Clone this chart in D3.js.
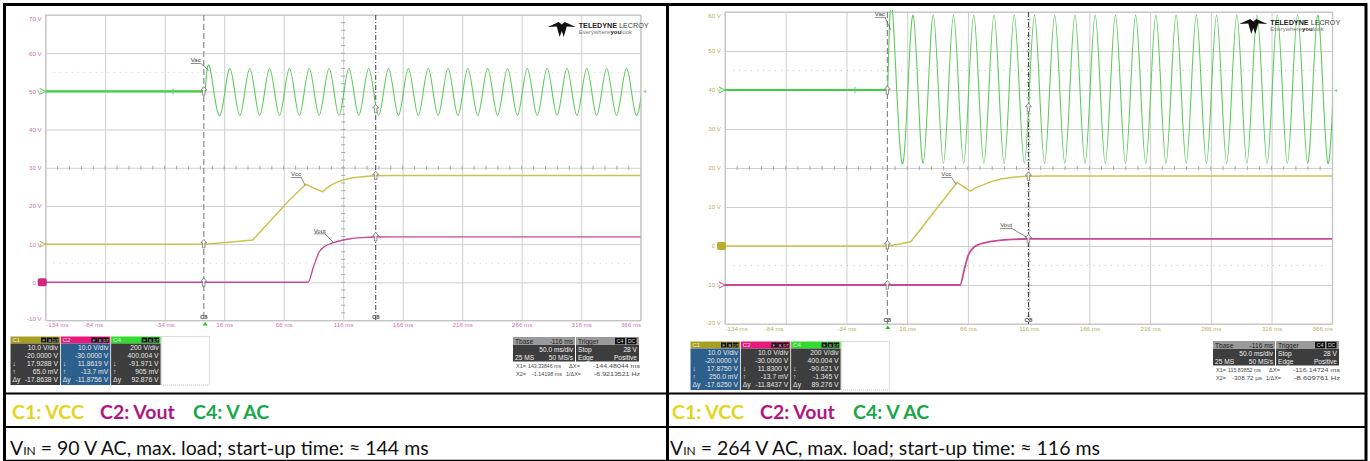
<!DOCTYPE html>
<html><head><meta charset="utf-8">
<script src="https://cdn.jsdelivr.net/npm/d3@7/dist/d3.min.js"></script>
<style>html,body{margin:0;padding:0;background:#fff}svg{display:block}</style>
</head><body>
<svg id="chart" width="1370" height="461"></svg>
<script>
// ================= DATA =================
const timeTicks = [-134, -84, -34, 16, 66, 116, 166, 216, 266, 316, 366];   // ms
const leftVoltTicks = [-10, 0, 10, 20, 30, 40, 50, 60, 70];                  // V (screen scale)
const rightVoltTicks = [-20, -10, 0, 10, 20, 30, 40, 50, 60];

// ---- Left: VIN = 90 V AC ----
const leftVccT  = [-134, 0, 20, 40, 71, 84.7, 91, 98.8, 102, 105, 110, 116, 123, 130, 137, 143, 155, 366];
const leftVccV  = [10, 10, 10.5, 11.1, 21.6, 25.7, 24.7, 23.7, 24.6, 25.3, 26.1, 26.8, 27.3, 27.6, 27.8, 27.9, 27.95, 27.95];
const leftVoutT = [-134, 86.4, 91, 95.9, 100, 108, 115, 122, 132, 143, 160, 366];
const leftVoutV = [0, 0, 4, 8.0, 9.3, 10.4, 11.0, 11.4, 11.7, 11.85, 11.9, 11.9];
const leftVacIdle = 50;
const leftVacExtremes = [56,43.7,56,43.7,56,43.7,56,43.7,56,43.7,56,43.7,56,43.7,56,43.7,
  56,43.7,56,43.7,56,43.7,56,43.7,56,43.7,56,43.7,56,43.7,56,43.7,56,43.7,56,43.7,
  56,43.7,56,43.7,56,43.7,56,43.7,56,43.7];

// ---- Right: VIN = 264 V AC ----
const rightVccT  = [-134, 0, 10, 19, 57, 68, 72, 78, 85, 92, 100, 108, 116, 130, 366];
const rightVccV  = [0, 0, 0.5, 1.1, 16.3, 14.1, 14.9, 15.6, 16.5, 17.1, 17.5, 17.75, 17.88, 17.95, 17.95];
const rightVoutT = [-134, 59.6, 63, 66.4, 70, 76, 84, 92, 104, 116, 135, 366];
const rightVoutV = [-10, -10, -6, -2.3, -0.6, 0.5, 1.1, 1.45, 1.7, 1.83, 1.85, 1.85];
const rightVacIdle = 40;
const rightVacExtremes = [59.2,21.2,59.2,21.2,59.2,21.2,59.2,21.2,59.2,21.2,59.2,21.2,59.2,21.2,
  59.2,21.2,59.2,21.2,59.2,21.2,59.2,21.2,59.2,21.2,59.2,21.2,59.2,21.2,59.2,21.2,59.2,21.2,
  59.2,21.2,59.2,21.2,59.2,21.2,59.2,21.2,59.2,21.2,59.2,21.2,59.2,21.2];

const vacFirstExtremeT = 4.17;   // ms after switch-on
const vacHalfPeriod = 8.33;      // ms (60 Hz)

// cursors (ms)
const leftCursors  = [143.33846, -1.14198];
const rightCursors = [115.83852, -0.30872];

// readouts [at X1, at X2]
const leftC1At = [17.9288, 0.065],  leftC2At = [11.8619, -0.0137],  leftC4At = [-91.971, 0.905];
const rightC1At = [17.8750, 0.250], rightC2At = [11.8300, -0.0137], rightC4At = [-90.621, -1.345];

// info box texts
const leftC1Info = ["10.0 V/div", "-20.0000 V", "17.9288 V", "65.0 mV", "-17.8638 V"];
const leftC2Info = ["10.0 V/div", "-30.0000 V", "11.8619 V", "-13.7 mV", "-11.8756 V"];
const leftC4Info = ["200 V/div", "400.004 V", "-91.971 V", "905 mV", "92.876 V"];
const rightC1Info = ["10.0 V/div", "-20.0000 V", "17.8750 V", "250.0 mV", "-17.6250 V"];
const rightC2Info = ["10.0 V/div", "-30.0000 V", "11.8300 V", "-13.7 mV", "-11.8437 V"];
const rightC4Info = ["200 V/div", "400.004 V", "-90.621 V", "-1.345 V", "89.276 V"];
const leftCursorText  = ["143.33846 ms", "-1.14198 ms", "-144.48044 ms", "-6.9213521 Hz"];
const rightCursorText = ["115.83852 ms", "-308.72 µs", "-116.14724 ms", "-8.609761 Hz"];
const timebaseText = ["Tbase", "-116 ms", "50.0 ms/div", "25 MS", "50 MS/s"];
const triggerText = ["Trigger", "Stop", "28 V", "Edge", "Positive"];

const legendItems = ["C1: VCC", "C2: Vout", "C4: V AC"];
const legendColors = ["#e3d41e", "#b0167c", "#18a84a"];
const leftCaption = " = 90 V AC, max. load; start-up time: ≈ 144 ms";
const rightCaption = " = 264 V AC, max. load; start-up time: ≈ 116 ms";

// ================= DRAW =================
const svg = d3.select("#chart");
const SANS = "'Liberation Sans', Arial, sans-serif";
const NARROW = "'Liberation Sans Narrow', 'Liberation Sans', Arial, sans-serif";
const GRID = "#cfcfcf";
const zip = (a, b) => a.map((d, i) => [d, b[i]]);

const panels = [
  { id: "L", x0: 45.7, x1: 640.7, y0: 15, y1: 320.5, yDomain: [-10, 70], voltTicks: leftVoltTicks,
    labelColor: "#cf72b8", vccT: leftVccT, vccV: leftVccV, voutT: leftVoutT, voutV: leftVoutV,
    vacIdle: leftVacIdle, vacExt: leftVacExtremes, cursors: leftCursors,
    c1: leftC1At, c2: leftC2At, c4: leftC4At, zero: { c1: 10, c2: 0, c4: 50 },
    dots: [55, 5], selected: "C2",
    labels: [{ t: "Vac", at: [3, 55.5], off: [-13, -8] }, { t: "Vcc", at: [84, 25.4], off: [-9, -9] },
             { t: "Vout", at: [108, 10.4], off: [-14, -10] }],
    info: [leftC1Info, leftC2Info, leftC4Info], boxX: 10.5, boxY: 336.5,
    tbX: 513, tbY: 337, curText: leftCursorText, curY: 368,
    legendX: 12, capX: 10 , caption: leftCaption},
  { id: "R", x0: 725, x1: 1332.3, y0: 12, y1: 324, yDomain: [-20, 60], voltTicks: rightVoltTicks,
    labelColor: "#b6b064", vccT: rightVccT, vccV: rightVccV, voutT: rightVoutT, voutV: rightVoutV,
    vacIdle: rightVacIdle, vacExt: rightVacExtremes, cursors: rightCursors,
    c1: rightC1At, c2: rightC2At, c4: rightC4At, zero: { c1: 0, c2: -10, c4: 40 },
    dots: [45, -5], selected: "C1",
    labels: [{ t: "Vac", at: [2.5, 55.4], off: [-11, -14] }, { t: "Vcc", at: [56.5, 15.8], off: [-10, -8] },
             { t: "Vout", at: [114, 2.3], off: [-20, -10] }],
    info: [rightC1Info, rightC2Info, rightC4Info], boxX: 690.5, boxY: 341.5,
    tbX: 1213, tbY: 341, curText: rightCursorText, curY: 372,
    legendX: 672, capX: 670, caption: rightCaption }
];

function drawPanel(p) {
  const g = svg.append("g");
  const x = d3.scaleLinear().domain([timeTicks[0], timeTicks[timeTicks.length - 1]]).range([p.x0, p.x1]);
  const y = d3.scaleLinear().domain(p.yDomain).range([p.y1, p.y0]);
  const W = p.x1 - p.x0, H = p.y1 - p.y0;

  // grid
  g.append("g").attr("transform", `translate(0,${p.y1})`)
    .call(d3.axisBottom(x).tickValues(timeTicks).tickSize(-H).tickFormat(""))
    .call(s => { s.select(".domain").remove(); s.selectAll("line").attr("stroke", GRID); });
  g.append("g").attr("transform", `translate(${p.x0},0)`)
    .call(d3.axisLeft(y).tickValues(p.voltTicks).tickSize(-W).tickFormat(""))
    .call(s => { s.select(".domain").remove(); s.selectAll("line").attr("stroke", GRID); });
  g.append("rect").attr("x", p.x0).attr("y", p.y0).attr("width", W).attr("height", H)
    .attr("fill", "none").attr("stroke", "#c4c4c4");

  // center cross minor ticks
  const cT = timeTicks[5], cV = p.voltTicks[4];
  const dT = (timeTicks[1] - timeTicks[0]) / 5, dV = (p.voltTicks[1] - p.voltTicks[0]) / 5;
  const minorT = d3.range(timeTicks[0] + dT, timeTicks[timeTicks.length - 1], dT);
  const minorV = d3.range(p.yDomain[0] + dV, p.yDomain[1], dV);
  g.selectAll(null).data(minorT).join("line")
    .attr("x1", d => x(d)).attr("x2", d => x(d)).attr("y1", y(cV) - 2).attr("y2", y(cV) + 2)
    .attr("stroke", "#a8a8a8");
  g.selectAll(null).data(minorV).join("line")
    .attr("y1", d => y(d)).attr("y2", d => y(d)).attr("x1", x(cT) - 2).attr("x2", x(cT) + 2)
    .attr("stroke", "#a8a8a8");

  // dotted levels
  g.selectAll(null).data(p.dots).join("line")
    .attr("x1", p.x0 + 8).attr("x2", p.x1 - 8).attr("y1", d => y(d)).attr("y2", d => y(d))
    .attr("stroke", "#c8c8c8").attr("stroke-dasharray", "1,5");

  // axis labels
  const xa = g.append("g").attr("transform", `translate(0,${p.y1 + 3})`)
    .call(d3.axisBottom(x).tickValues(timeTicks).tickSize(0).tickPadding(0).tickFormat(d => d + " ms"));
  xa.select(".domain").remove();
  xa.selectAll("text").attr("fill", p.labelColor).attr("font-family", SANS).attr("font-size", 6.2)
    .attr("dy", "0.6em")
    .attr("text-anchor", (d, i) => i === 0 ? "start" : i === timeTicks.length - 1 ? "end" : "middle")
    .attr("dx", (d, i) => i === 1 ? -12 : 0);
  const ya = g.append("g").attr("transform", `translate(${p.x0 - 4},0)`)
    .call(d3.axisLeft(y).tickValues(p.voltTicks).tickSize(0).tickPadding(0).tickFormat(d => d + " V"));
  ya.select(".domain").remove();
  ya.selectAll("text").attr("fill", p.labelColor).attr("font-family", SANS).attr("font-size", 6.2)
    .attr("dy", d => d === p.yDomain[1] ? "0.95em" : d === p.yDomain[0] ? "0.05em" : "0.32em");

  // clip
  const clipId = "clip" + p.id;
  svg.append("clipPath").attr("id", clipId).append("rect")
    .attr("x", p.x0).attr("y", p.y0 - 2).attr("width", W).attr("height", H + 2);
  const tg = g.append("g").attr("clip-path", `url(#${clipId})`);

  // cursors
  tg.append("line").attr("x1", x(p.cursors[1])).attr("x2", x(p.cursors[1])).attr("y1", p.y0).attr("y2", p.y1)
    .attr("stroke", "#8a8a8a").attr("stroke-width", 1.2).attr("stroke-dasharray", "6,3");
  tg.append("line").attr("x1", x(p.cursors[0])).attr("x2", x(p.cursors[0])).attr("y1", p.y0).attr("y2", p.y1)
    .attr("stroke", "#404040").attr("stroke-width", 1).attr("stroke-dasharray", "5,2,1,2");

  const lineLin = d3.line().x(d => x(d[0])).y(d => y(d[1]));
  const lineMono = d3.line().x(d => x(d[0])).y(d => y(d[1])).curve(d3.curveMonotoneX);
  const lineNat = d3.line().x(d => x(d[0])).y(d => y(d[1])).curve(d3.curveNatural);

  // V AC (C4)
  tg.append("path").attr("d", lineLin([[timeTicks[0], p.vacIdle], [0, p.vacIdle]]))
    .attr("fill", "none").attr("stroke", "#3fcf3f").attr("stroke-width", 2.2);
  const wave = [[0, p.vacIdle]].concat(p.vacExt.map((v, i) => [vacFirstExtremeT + i * vacHalfPeriod, v]));
  tg.append("path").attr("d", lineNat(wave))
    .attr("fill", "none").attr("stroke", "#5ccc5c").attr("stroke-width", 1.1);

  // VCC (C1)
  tg.append("path").attr("d", lineLin(zip(p.vccT, p.vccV)))
    .attr("fill", "none").attr("stroke", "#cbc44e").attr("stroke-width", 1.5).attr("stroke-linejoin", "round");
  // Vout (C2)
  tg.append("path").attr("d", lineMono(zip(p.voutT, p.voutV)))
    .attr("fill", "none").attr("stroke", "#c74a98").attr("stroke-width", p.id === "R" ? 1.8 : 1.4);

  // green horizontal-position tick on idle line
  tg.append("line").attr("x1", x(-27)).attr("x2", x(-27)).attr("y1", y(p.vacIdle) - 3).attr("y2", y(p.vacIdle) + 3)
    .attr("stroke", "#6c6").attr("stroke-width", 1);

  // cursor markers on traces
  const disp = {
    c1: v => p.zero.c1 + v, c2: v => p.zero.c2 + v, c4: v => p.zero.c4 + v / 20
  };
  const marks = [];
  [0, 1].forEach(k => {
    marks.push([p.cursors[k], disp.c1(p.c1[k])]);
    marks.push([p.cursors[k], disp.c2(p.c2[k])]);
    marks.push([p.cursors[k], disp.c4(p.c4[k])]);
  });
  g.selectAll(null).data(marks).join("path")
    .attr("d", d => { const cx = x(d[0]), cy = y(d[1]);
      return `M${cx - 3},${cy - 1}L${cx},${cy - 4.5}L${cx + 3},${cy - 1}L${cx + 1.2},${cy - 1}L${cx + 1.2},${cy + 4}L${cx - 1.2},${cy + 4}L${cx - 1.2},${cy - 1}Z`; })
    .attr("fill", "#f4f4f4").attr("stroke", "#777").attr("stroke-width", 0.8);

  // cursor labels at bottom
  g.selectAll(null).data(p.cursors).join("text")
    .attr("x", d => x(d)).attr("y", p.y1 - 2).attr("text-anchor", "middle")
    .attr("font-family", SANS).attr("font-size", 6).attr("font-weight", "bold").attr("fill", "#555").text("C8");

  // trigger marker
  g.append("path").attr("d", `M${x(0) - 2.5},${p.y1 + 5}L${x(0)},${p.y1 + 1.5}L${x(0) + 2.5},${p.y1 + 5}Z`)
    .attr("fill", "#22bb22");

  // trace labels with leader lines
  p.labels.forEach(l => {
    const px = x(l.at[0]), py = y(l.at[1]);
    const lx = px + l.off[0], ly = py + l.off[1];
    g.append("line").attr("x1", lx + 5).attr("y1", ly + 1).attr("x2", px).attr("y2", py)
      .attr("stroke", "#555").attr("stroke-width", 0.7);
    g.append("text").attr("x", lx).attr("y", ly).attr("text-anchor", "middle")
      .attr("font-family", SANS).attr("font-size", 6).attr("fill", "#444")
      .attr("text-decoration", "underline").text(l.t);
  });

  // channel markers at left edge
  const sel = p.selected;
  const chMarks = [
    { ch: "C4", v: p.zero.c4, col: "#3c3", fill: false },
    { ch: "C1", v: p.zero.c1, col: "#b8ae30", fill: sel === "C1" },
    { ch: "C2", v: p.zero.c2, col: "#d0287e", fill: sel === "C2" }
  ];
  chMarks.forEach(m => {
    const cy = y(m.v);
    if (m.fill) {
      g.append("rect").attr("x", p.x0 - 8).attr("y", cy - 4).attr("width", 9).attr("height", 8).attr("rx", 2)
        .attr("fill", m.col);
    } else {
      g.append("path").attr("d", `M${p.x0 - 6},${cy - 3}L${p.x0},${cy}L${p.x0 - 6},${cy + 3}`)
        .attr("fill", "none").attr("stroke", m.col).attr("stroke-width", 0.9);
    }
  });
  // right-edge C4 level marker
  g.append("text").attr("x", p.x1 + 2).attr("y", y(p.zero.c4) + 2)
    .attr("font-family", SANS).attr("font-size", 6).attr("fill", "#8c8").text("◂");

  // logo
  const lg = g.append("g").attr("transform", `translate(${p.x1 - 93},${p.y0 + 6})`);
  lg.append("path").attr("d", "M0,6 L11,1 L14,3.5 L17,1 L28,6 L19,5.5 L16,16 L14,10 L12,16 L9,5.5 Z").attr("fill", "#111");
  const lt = lg.append("text").attr("x", 31).attr("y", 6.5).attr("font-family", NARROW).attr("font-size", 7.2).attr("fill", "#222");
  lt.append("tspan").attr("font-weight", "bold").text("TELEDYNE");
  lt.append("tspan").attr("fill", "#444").text(" LECROY");
  const lt2 = lg.append("text").attr("x", 31).attr("y", 12.5).attr("font-family", NARROW).attr("font-size", 6).attr("fill", "#777");
  lt2.append("tspan").text("Everywhere");
  lt2.append("tspan").attr("font-weight", "bold").attr("fill", "#222").text("you");
  lt2.append("tspan").text("look");

  // channel info boxes
  const boxCols = [["C1", "#a89f22"], ["C2", "#e8197c"], ["C4", "#2fdc2f"]];
  const prefixes = ["", "", "↓", "↑", "Δy"];
  boxCols.forEach((bc, i) => {
    const bx = p.boxX + i * 50.3, by = p.boxY, bw = 49.5;
    const selected = bc[0] === sel;
    g.append("rect").attr("x", bx).attr("y", by).attr("width", bw).attr("height", 7).attr("fill", bc[1]);
    g.append("text").attr("x", bx + 2).attr("y", by + 5.8).attr("font-family", NARROW).attr("font-size", 6)
      .attr("fill", "#eee").text(bc[0]);
    [0, 1, 2].forEach(j => g.append("rect").attr("x", bx + bw - 19 + j * 6).attr("y", by + 1).attr("width", 5.5).attr("height", 5)
      .attr("fill", "#111"));
    ["F", "B", "DT"].forEach((t, j) => g.append("text").attr("x", bx + bw - 16.2 + j * 6).attr("y", by + 5.2)
      .attr("text-anchor", "middle").attr("font-family", NARROW).attr("font-size", 4).attr("fill", "#ddd").text(t));
    g.append("rect").attr("x", bx).attr("y", by + 7).attr("width", bw).attr("height", 41.5)
      .attr("fill", selected ? "#2d5f8c" : "#3d3d3d");
    p.info[i].forEach((t, j) => {
      const ty = by + 13.8 + j * 8;
      g.append("text").attr("x", bx + bw - 2).attr("y", ty).attr("text-anchor", "end")
        .attr("font-family", NARROW).attr("font-size", 6.8).attr("fill", "#e6e6e6").text(t);
      if (prefixes[j]) g.append("text").attr("x", bx + 2).attr("y", ty)
        .attr("font-family", NARROW).attr("font-size", 6.8).attr("fill", "#e6e6e6").text(prefixes[j]);
    });
  });
  g.append("rect").attr("x", p.boxX + 3 * 50.3).attr("y", p.boxY).attr("width", 48).attr("height", 48.5)
    .attr("fill", "none").attr("stroke", "#bdbdbd").attr("stroke-dasharray", "1,1");

  // timebase / trigger boxes
  const tx = p.tbX, ty0 = p.tbY;
  g.append("rect").attr("x", tx).attr("y", ty0).attr("width", 62).attr("height", 8).attr("fill", "#9a9a9a");
  g.append("rect").attr("x", tx).attr("y", ty0 + 8).attr("width", 62).attr("height", 16.5).attr("fill", "#3d3d3d");
  g.append("rect").attr("x", tx + 63).attr("y", ty0).attr("width", 63).attr("height", 8).attr("fill", "#9a9a9a");
  g.append("rect").attr("x", tx + 63).attr("y", ty0 + 8).attr("width", 63).attr("height", 16.5).attr("fill", "#3d3d3d");
  const T = (xx, yy, s, anchor, col, len, fs) => {
    const t = g.append("text").attr("x", xx).attr("y", yy).attr("text-anchor", anchor || "start")
      .attr("font-family", NARROW).attr("font-size", fs || 6.6).attr("fill", col || "#eee").text(s);
    if (len) t.attr("textLength", len).attr("lengthAdjust", "spacingAndGlyphs");
    return t;
  };
  T(tx + 2, ty0 + 6.5, timebaseText[0], "start", "#222");
  T(tx + 60, ty0 + 6.5, timebaseText[1], "end", "#222");
  T(tx + 60, ty0 + 14.5, timebaseText[2], "end");
  T(tx + 2, ty0 + 22.5, timebaseText[3]);
  T(tx + 60, ty0 + 22.5, timebaseText[4], "end");
  T(tx + 65, ty0 + 6.5, triggerText[0], "start", "#222");
  g.append("rect").attr("x", tx + 102).attr("y", ty0 + 0.8).attr("width", 10).attr("height", 6.5).attr("fill", "#111");
  g.append("rect").attr("x", tx + 113.5).attr("y", ty0 + 0.8).attr("width", 10).attr("height", 6.5).attr("fill", "#111");
  g.append("text").attr("x", tx + 107).attr("y", ty0 + 6.2).attr("text-anchor", "middle").attr("font-family", NARROW).attr("font-size", 5).attr("fill", "#ddd").text("C4");
  g.append("text").attr("x", tx + 118.5).attr("y", ty0 + 6.2).attr("text-anchor", "middle").attr("font-family", NARROW).attr("font-size", 5).attr("fill", "#ddd").text("DC");
  T(tx + 65, ty0 + 14.5, triggerText[1]);
  T(tx + 124, ty0 + 14.5, triggerText[2], "end");
  T(tx + 65, ty0 + 22.5, triggerText[3]);
  T(tx + 124, ty0 + 22.5, triggerText[4], "end");

  // cursor readouts (X1= | value | ΔX= | value)
  const cc = "#4a4a4a", fs = 6;
  T(tx + 3, p.curY, "X1=", "start", cc, 10, fs);
  T(tx + 15, p.curY, p.curText[0], "start", cc, 33, fs);
  T(tx + 3, p.curY + 8, "X2=", "start", cc, 10, fs);
  T(tx + 49, p.curY + 8, p.curText[1], "end", cc, 30, fs);
  T(tx + 56, p.curY, "ΔX=", "start", cc, 11, fs);
  T(tx + 127, p.curY, p.curText[2], "end", cc, 47, fs);
  T(tx + 53, p.curY + 8, "1/ΔX=", "start", cc, 15, fs);
  T(tx + 127, p.curY + 8, p.curText[3], "end", cc, 46, fs);

  // legend row
  const legX = [0, 88, 181];
  legendItems.forEach((s, i) => svg.append("text").attr("x", p.legendX + legX[i]).attr("y", 418.5)
    .attr("font-family", "Lato, 'Open Sans', sans-serif").attr("font-weight", "bold").attr("font-size", 19.5)
    .attr("fill", legendColors[i]).text(s));
  // caption
  const cap = svg.append("text").attr("x", p.capX).attr("y", 455)
    .attr("font-family", "Lato, 'Open Sans', sans-serif").attr("font-size", 19.5).attr("fill", "#111");
  cap.append("tspan").text("V");
  cap.append("tspan").attr("font-size", 12).text("IN");
  cap.append("tspan").text(p.caption);
}

panels.forEach(drawPanel);

// table borders
const B = svg.append("g").attr("stroke", "#000");
B.append("line").attr("x1", 3).attr("x2", 1367).attr("y1", 4.5).attr("y2", 4.5).attr("stroke-width", 3);
B.append("line").attr("x1", 4.5).attr("x2", 4.5).attr("y1", 3).attr("y2", 461).attr("stroke-width", 3);
B.append("line").attr("x1", 1366).attr("x2", 1366).attr("y1", 3).attr("y2", 461).attr("stroke-width", 3);
B.append("line").attr("x1", 667.5).attr("x2", 667.5).attr("y1", 3).attr("y2", 461).attr("stroke-width", 3);
B.append("line").attr("x1", 3).attr("x2", 1367).attr("y1", 393.5).attr("y2", 393.5).attr("stroke-width", 2);
B.append("line").attr("x1", 3).attr("x2", 1367).attr("y1", 427).attr("y2", 427).attr("stroke-width", 2);
B.append("line").attr("x1", 3).attr("x2", 1367).attr("y1", 460.5).attr("y2", 460.5).attr("stroke-width", 1.5);
</script></body></html>
